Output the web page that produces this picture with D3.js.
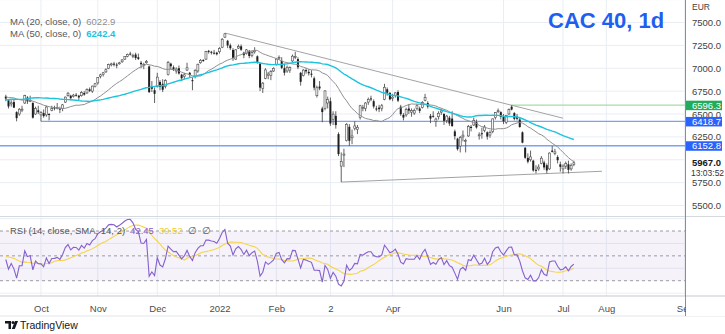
<!DOCTYPE html>
<html><head><meta charset="utf-8">
<script src="https://cdn.jsdelivr.net/npm/d3@7/dist/d3.min.js"></script>
<style>body{margin:0;background:#fff;overflow:hidden}svg{display:block;font-family:"Liberation Sans",Arial,sans-serif}</style>
</head><body><svg id="c" width="725" height="334"></svg>
<script>
// ---------- DATA (daily bars, 14 Sep 2021 .. 7 Jul 2022; index = trading day) ----------
const opens = [
6690,6650,6610,6630,6520,6500,6545,6620,6680,6650,6620,6500,6540,
6490,6510,6490,6500,6540,6570,6560,6560,6560,6630,6700,6700,6690,6710,6700,6700,6730,6730,6770,6750,6800,
6840,6910,6930,6960,7000,7040,7050,7040,7050,7070,7100,7130,7160,7140,7150,7120,7060,7040,7060,7020,6800,6760,
6800,6850,6830,6800,6930,7050,7010,6970,7000,6930,6910,6980,6950,6870,6910,6970,7060,7090,7100,7190,7180,7170,7170,
7180,7230,7340,7300,7250,7200,7100,7220,7240,7170,7160,7190,7140,7180,7130,7050,6780,6890,6920,6920,6970,
7040,7110,7080,7000,6970,6980,7080,7130,7100,6950,6920,6980,6960,6940,6890,6700,6800,6560,6560,6620,
6640,6440,6480,6280,5930,6050,6210,6360,6240,6340,6330,6460,6560,6560,6630,6670,6640,6560,6570,6560,6660,6770,6730,
6670,6700,6740,6580,6490,6490,6560,6520,6510,6560,6560,6570,6650,6620,6480,6480,6420,6470,6520,
6500,6430,6460,6450,6310,6230,6150,6250,6210,6260,6360,6380,6410,6270,6290,6320,6300,6270,6310,6460,6530,6520,
6470,6410,6500,6580,6510,6470,6440,6300,6130,6020,6000,5990,5890,5900,5960,5970,5940,5900,6100,6070,6030,5950,
5900,5930,5950,5900,5950];
const highs = [
6710,6660,6650,6660,6530,6565,6590,6710,6695,6700,6630,6580,6590,
6530,6550,6590,6510,6590,6590,6620,6580,6610,6690,6740,6710,6720,6730,6710,6750,6750,6780,6790,6810,6840,
6900,6940,6960,7000,7050,7060,7070,7060,7070,7100,7130,7160,7180,7160,7170,7160,7080,7060,7090,7030,6860,6790,
6950,6870,6880,6880,7080,7060,7030,7010,7030,6940,6950,7060,6960,6900,6990,7050,7100,7100,7190,7200,7190,7200,7180,
7230,7330,7385,7310,7270,7220,7210,7260,7260,7180,7210,7200,7190,7230,7140,7060,6850,7000,6960,6980,7010,
7110,7140,7120,7050,7030,7020,7150,7180,7120,6960,6990,7000,6990,6980,6910,6810,6860,6580,6760,6690,
6680,6530,6530,6300,6080,6120,6400,6390,6330,6420,6380,6600,6600,6630,6680,6700,6660,6590,6600,6610,6830,6790,6740,
6720,6740,6760,6600,6510,6570,6610,6560,6560,6610,6580,6640,6720,6640,6500,6530,6460,6530,6560,
6510,6490,6480,6530,6330,6240,6260,6320,6230,6380,6380,6460,6440,6300,6350,6380,6310,6320,6450,6520,6560,6530,
6500,6490,6560,6596,6520,6500,6460,6310,6140,6070,6100,6000,5940,5950,6040,5990,5960,6080,6150,6120,6050,5980,
5950,5980,5990,5960,5990];
const lows = [
6640,6560,6580,6565,6420,6480,6520,6610,6610,6630,6450,6490,6500,
6419,6460,6470,6430,6530,6540,6550,6510,6530,6620,6690,6650,6680,6690,6650,6690,6700,6720,6740,6730,6790,
6820,6890,6910,6950,6990,7020,7020,7000,7040,7060,7090,7120,7140,7110,7090,7090,7000,6990,7050,6730,6740,6620,
6790,6760,6740,6780,6920,6990,6970,6940,6930,6860,6880,6970,6900,6760,6890,6950,7050,7070,7090,7160,7150,7150,7140,
7160,7220,7330,7220,7200,7080,7090,7210,7190,7110,7150,7110,7120,7160,7050,6750,6730,6880,6880,6870,6960,
7030,7090,6990,6920,6950,6950,7070,7100,6990,6810,6910,6940,6920,6900,6760,6680,6760,6410,6540,6560,
6370,6380,6340,6040,5756,5920,6200,6150,6170,6320,6280,6440,6530,6530,6600,6640,6560,6530,6520,6530,6650,6700,6650,
6640,6680,6630,6480,6430,6470,6500,6470,6490,6540,6510,6560,6640,6560,6400,6460,6360,6440,6490,
6380,6400,6370,6360,6220,6100,6080,6200,6080,6250,6310,6370,6340,6220,6230,6300,6220,6240,6290,6440,6510,6440,
6390,6390,6490,6540,6430,6430,6350,6180,6010,5960,5980,5870,5850,5880,5950,5890,5850,5890,6080,6050,5960,5870,
5850,5900,5850,5880,5930];
const closes = [
6669,6583,6622,6570,6455,6552,6553,6701,6638,6650,6460,6560,6520,
6518,6477,6576,6497,6559,6560,6571,6548,6600,6685,6727,6673,6706,6705,6681,6734,6712,6766,6753,6805,6830,
6897,6928,6950,6984,7040,7048,7046,7034,7059,7091,7128,7152,7156,7141,7112,7102,7044,7042,7075,6739,6776,6721,
6903,6796,6765,6865,7065,7022,6987,6991,6943,6891,6928,7005,6927,6869,6977,7044,7086,7087,7181,7181,7173,7168,7153,
7217,7317,7376,7249,7219,7115,7201,7237,7202,7143,7201,7134,7173,7194,7068,6788,6837,6982,6936,6965,6999,
7100,7116,7005,6951,7011,7007,7132,7130,7011,6852,6980,6966,6945,6929,6788,6787,6780,6521,6752,6659,
6396,6498,6379,6062,5983,6062,6387,6207,6260,6370,6355,6590,6570,6620,6660,6659,6582,6555,6553,6590,6792,6732,6660,
6684,6731,6646,6498,6461,6548,6537,6538,6537,6590,6534,6624,6681,6581,6450,6476,6445,6508,6534,
6425,6477,6396,6368,6258,6116,6243,6269,6210,6362,6347,6430,6353,6273,6285,6358,6253,6298,6447,6515,6536,6468,
6420,6486,6548,6549,6447,6448,6358,6187,6022,5979,6031,5883,5882,5920,6017,5916,5883,6073,6086,6086,5995,5923,
5931,5960,5890,5940,5967];
// closes before the visible window (warm-up for MA / RSI)
const priorCloses = [
6553,6552,6543,6530,6558,6396,6530,6560,6559,6558,6515,6460,6296,6377,6465,6537,6568,6578,6532,6607,6634,6613,
6672,6747,6744,6781,6816,6797,6822,6858,6881,6896,6820,6819,6806,6626,6626,6683,6682,6680,6632,6681,6689,6680,
6759,6765,6690,6743,6727,6675,6650,6663,6676];

const xTickLabels = ["Oct","Nov","Dec","2022","Feb","2","Apr","Jun","Jul","Aug","Sep"];
const xTickIndex  = [13,34,56,79,100,120,143,184,206,222,251];
const priceTicks  = [7500,7250,7000,6750,6500,6250,5750,5500];
const priceGrid   = [7750,7500,7250,7000,6750,6500,6250,6000,5750,5500];
const rsiTicks    = [80,60,40];
const rsiGrid     = [80,60,40,20];
const rsiLevels   = [70,50,30];

const levels      = [6596.3, 6418.7, 6152.8];
const levelFrom   = [187, 13, -5];
const levelColors = ["#a8dba8","#7aa2f5","#7aa2f5"];
const badgeColors = ["#22ab5a","#2962ff","#2962ff"];

const upperTrend = [[81,7385],[206,6454]];
const lowerTrend = [[124,5756],[220.4,5874]];

const lastPrice = 5967.0, lastTime = "13:03:52";
const ma20Label = "6022.9", ma50Label = "6242.4";
const rsiLabel = "42.45", rsiMaLabel = "39.52";

// ---------- derived indicators ----------
const all = priorCloses.concat(closes), n0 = priorCloses.length;
function sma(arr, len, idx){let s=0;for(let k=idx-len+1;k<=idx;k++)s+=arr[k];return s/len;}
const ma20 = closes.map((_,i)=>sma(all,20,n0+i));
const ma50 = closes.map((_,i)=>sma(all,50,n0+i));
const rsiAll=[];let ag=0,al=0;
for(let k=1;k<all.length;k++){const ch=all[k]-all[k-1],g=Math.max(ch,0),l=Math.max(-ch,0);
  if(k<=14){ag+=g/14;al+=l/14;}else{ag=(ag*13+g)/14;al=(al*13+l)/14;}
  if(k>=14)rsiAll[k]=al===0?100:100-100/(1+ag/al);}
const rsi = closes.map((_,i)=>rsiAll[n0+i]);
const rsiMa = closes.map((_,i)=>sma(rsiAll,14,n0+i));

// ---------- layout ----------
const svg=d3.select("#c");
const axisX=685, pTop=0, pBot=216.5, rTop=216.5, rBot=296, xAxBot=316;
const x=d3.scaleLinear().domain([0,1]).range([5.8,5.8+2.705]);
const y=d3.scaleLinear().domain([5500,7500]).range([205.5,22.5]);
const yr=d3.scaleLinear().domain([30,70]).range([280.7,231]);
const gridC="#e9eef4";

const defs=svg.append("defs");
defs.append("clipPath").attr("id","cp").append("rect").attr("x",0).attr("y",pTop).attr("width",axisX).attr("height",pBot-pTop);
defs.append("clipPath").attr("id","cr").append("rect").attr("x",0).attr("y",rTop).attr("width",axisX).attr("height",rBot-rTop);
defs.append("clipPath").attr("id","cra").append("rect").attr("x",axisX).attr("y",rTop+0.5).attr("width",40).attr("height",rBot-rTop);
defs.append("clipPath").attr("id","cx").append("rect").attr("x",0).attr("y",rBot).attr("width",axisX).attr("height",30);

// grid
const g=svg.append("g");
g.selectAll(".vg").data(xTickIndex).join("line").attr("x1",d=>x(d)).attr("x2",d=>x(d)).attr("y1",0).attr("y2",rBot).attr("stroke",gridC);
g.selectAll(".hg").data(priceGrid).join("line").attr("x1",0).attr("x2",axisX).attr("y1",d=>y(d)).attr("y2",d=>y(d)).attr("stroke",gridC).attr("clip-path","url(#cp)");
g.selectAll(".rg").data(rsiGrid).join("line").attr("x1",0).attr("x2",axisX).attr("y1",d=>yr(d)).attr("y2",d=>yr(d)).attr("stroke",gridC).attr("clip-path","url(#cr)");

// price pane
const pp=svg.append("g").attr("clip-path","url(#cp)");
levels.forEach((v,k)=>{pp.append("line").attr("x1",x(levelFrom[k])).attr("x2",axisX).attr("y1",y(v)).attr("y2",y(v)).attr("stroke",levelColors[k]).attr("stroke-width",1.3);});
const tl=d3.line().x(d=>x(d[0])).y(d=>y(d[1]));
pp.append("path").attr("d",tl(upperTrend)).attr("stroke","#a3a3a3").attr("fill","none");
pp.append("path").attr("d",tl(lowerTrend)).attr("stroke","#a3a3a3").attr("fill","none");

const idx=d3.range(closes.length);
pp.selectAll(".wk").data(idx).join("line").attr("x1",i=>x(i)).attr("x2",i=>x(i)).attr("y1",i=>y(highs[i])).attr("y2",i=>y(lows[i])).attr("stroke","#505050").attr("stroke-width",0.9);
pp.selectAll(".bd").data(idx).join("rect")
  .attr("x",i=>x(i)-1).attr("width",2)
  .attr("y",i=>y(Math.max(opens[i],closes[i])))
  .attr("height",i=>Math.max(1,Math.abs(y(opens[i])-y(closes[i]))))
  .attr("fill",i=>closes[i]>=opens[i]?"#f4f4f4":"#1e1e1e")
  .attr("stroke",i=>closes[i]>=opens[i]?"#4a4a4a":"none").attr("stroke-width",0.6);

const ml=d3.line().x((d,i)=>x(i)).y(d=>y(d));
pp.append("path").attr("d",ml(ma20)).attr("stroke","#8f8f8f").attr("fill","none").attr("stroke-width",1);
pp.append("path").attr("d",ml(ma50)).attr("stroke","#1cc3df").attr("fill","none").attr("stroke-width",1.4);

// rsi pane
const rp=svg.append("g").attr("clip-path","url(#cr)");
rp.append("rect").attr("x",0).attr("width",axisX).attr("y",yr(70)).attr("height",yr(30)-yr(70)).attr("fill","rgba(126,87,194,0.08)");
rp.selectAll(".rl").data(rsiLevels).join("line").attr("x1",0).attr("x2",axisX).attr("y1",d=>yr(d)).attr("y2",d=>yr(d)).attr("stroke","#9a9aa6").attr("stroke-dasharray","3,3");
const rl=d3.line().defined(d=>d!=null).x((d,i)=>x(i)).y(d=>yr(d));
rp.append("path").attr("d",rl(rsiMa)).attr("stroke","#f6d44a").attr("fill","none").attr("stroke-width",1.1);
rp.append("path").attr("d",rl(rsi)).attr("stroke","#8560cf").attr("fill","none").attr("stroke-width",1.1);

// separators
svg.append("line").attr("x1",0).attr("x2",725).attr("y1",pBot).attr("y2",pBot).attr("stroke","#d6d9de");
svg.append("line").attr("x1",0).attr("x2",725).attr("y1",rBot).attr("y2",rBot).attr("stroke","#c5c8ce").attr("stroke-width",1.2);
svg.append("line").attr("x1",0).attr("x2",725).attr("y1",xAxBot).attr("y2",xAxBot).attr("stroke","#e3e5e8");
svg.append("line").attr("x1",axisX+0.5).attr("x2",axisX+0.5).attr("y1",0).attr("y2",xAxBot).attr("stroke","#8a8d94");

// axes
const fs="9.5px", axC="#3d3f45";
const pAxis=d3.axisRight(y).tickValues(priceTicks).tickFormat(d3.format(".1f")).tickSize(0).tickPadding(7);
const pa=svg.append("g").attr("transform",`translate(${axisX},0)`).call(pAxis);
pa.select(".domain").remove();
pa.selectAll("text").attr("font-size",fs).attr("fill",axC).attr("font-family","Liberation Sans, Arial");
const rAxis=d3.axisRight(yr).tickValues(rsiTicks).tickFormat(d3.format(".2f")).tickSize(0).tickPadding(7);
const ra=svg.append("g").attr("transform",`translate(${axisX},0)`).attr("clip-path","url(#cra)").call(rAxis);
ra.select(".domain").remove();
ra.selectAll("text").attr("font-size",fs).attr("fill",axC).attr("font-family","Liberation Sans, Arial");
const xAxis=d3.axisBottom(x).tickValues(xTickIndex).tickFormat((d,i)=>xTickLabels[i]).tickSize(0).tickPadding(9);
const xa=svg.append("g").attr("transform",`translate(0,${rBot})`).attr("clip-path","url(#cx)").call(xAxis);
xa.attr("clip-path",null);
xa.select(".domain").remove();
xa.selectAll("text").attr("font-size",fs).attr("fill","#4a4c52").attr("font-family","Liberation Sans, Arial");
svg.append("rect").attr("x",axisX+1).attr("y",rBot+1).attr("width",40).attr("height",xAxBot-rBot-1).attr("fill","#fff");

svg.append("text").attr("x",692).attr("y",9.5).attr("font-size","8.5px").attr("fill",axC).text("EUR");

// badges
levels.forEach((v,k)=>{
  svg.append("rect").attr("x",axisX+1).attr("y",y(v)-4.5).attr("width",36).attr("height",9.5).attr("fill",badgeColors[k]);
  svg.append("text").attr("x",692).attr("y",y(v)+3.4).attr("font-size",fs).attr("fill","#fff").text(d3.format(".1f")(v));
});
svg.append("rect").attr("x",axisX+1).attr("y",y(lastPrice)-5).attr("width",38).attr("height",20).attr("fill","#fff");
svg.append("text").attr("x",692).attr("y",y(lastPrice)+3.6).attr("font-size",fs).attr("font-weight","bold").attr("fill","#131722").text(d3.format(".1f")(lastPrice));
svg.append("text").attr("x",691).attr("y",y(lastPrice)+13).attr("font-size","8.5px").attr("fill","#333").text(lastTime);

// legends
const lg=svg.append("g").attr("font-size","9.5px").attr("fill","#55575d");
const l1=lg.append("text").attr("x",10).attr("y",25);
l1.append("tspan").text("MA (20, close, 0)");
l1.append("tspan").attr("dx",5).attr("fill","#8f8f8f").text(ma20Label);
const l2=lg.append("text").attr("x",10).attr("y",36.6);
l2.append("tspan").text("MA (50, close, 0)");
l2.append("tspan").attr("dx",5).attr("fill","#1cc3df").attr("font-weight","bold").text(ma50Label);
const l3=lg.append("text").attr("x",10).attr("y",234);
l3.append("tspan").text("RSI (14, close, SMA, 14, 2)");
l3.append("tspan").attr("dx",5).attr("fill","#8560cf").text(rsiLabel);
l3.append("tspan").attr("dx",5).attr("fill","#f0cd2e").text(rsiMaLabel);
l3.append("tspan").attr("dx",5).text("∅");
l3.append("tspan").attr("dx",5).text("∅");

// title
svg.append("text").attr("x",548).attr("y",28).attr("font-size","22px").attr("font-weight","bold").attr("fill","#1f5ff0").attr("font-family","Liberation Sans, Arial").text("CAC 40, 1d");

// TradingView mark
const tv=svg.append("g").attr("transform","translate(5,321)");
tv.append("path").attr("d","M0 0 H6 V8 H3.5 V2.6 H0 Z").attr("fill","#131722");
tv.append("circle").attr("cx",8).attr("cy",1.5).attr("r",1.5).attr("fill","#131722");
tv.append("path").attr("d","M10 0 H13 L9.8 8 H6.8 Z").attr("fill","#131722");
svg.append("text").attr("x",20).attr("y",329).attr("font-size","10.5px").attr("fill","#131722").text("TradingView");
</script></body></html>
